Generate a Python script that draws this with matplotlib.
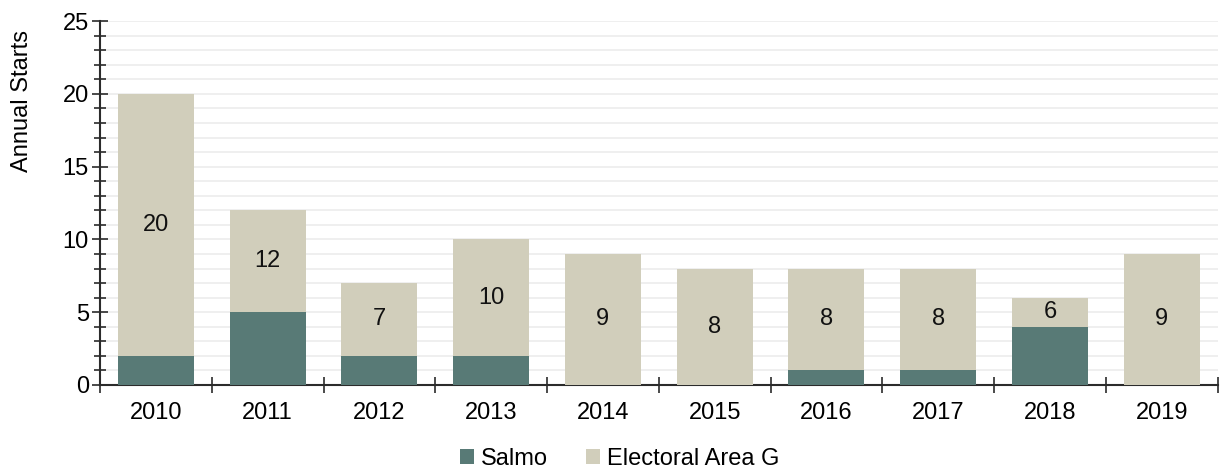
import matplotlib.pyplot as plt
from matplotlib.ticker import MultipleLocator
import numpy as np

plt.rcParams['font.family'] = ['Liberation Sans', 'DejaVu Sans']

years = ['2010', '2011', '2012', '2013', '2014', '2015', '2016', '2017', '2018', '2019']
salmo = [2, 5, 2, 2, 0, 0, 1, 1, 4, 0]
area_g = [18, 7, 5, 8, 9, 8, 7, 7, 2, 9]

c_salmo = '#587a76'
c_area = '#d1cebb'
fs = 17

fig = plt.figure(figsize=(12.2, 4.7), dpi=100)
ax = fig.add_axes([0.082, 0.181, 0.916, 0.774])

x = np.arange(len(years))
w = 0.68
ax.bar(x, salmo, w, color=c_salmo, label='Salmo', zorder=3)
ax.bar(x, area_g, w, bottom=salmo, color=c_area, label='Electoral Area G', zorder=3)

# total label in the middle of the upper segment
for i in range(len(years)):
    total = salmo[i] + area_g[i]
    ax.text(x[i], salmo[i] + area_g[i] / 2, f'{total}', ha='center', va='center',
            fontsize=fs, color='#111111', zorder=4)

ax.set_xlim(-0.5, len(years) - 0.5)
ax.set_ylim(0, 25)
ax.yaxis.set_major_locator(MultipleLocator(5))
ax.yaxis.set_minor_locator(MultipleLocator(1))
ax.grid(axis='y', which='both', color='#ececec', linewidth=1.2, zorder=0)

ax.set_xticks(x)
ax.set_xticklabels(years)
ax.set_xticks(np.arange(len(years) + 1) - 0.5, minor=True)
ax.tick_params(axis='x', which='major', length=0, pad=12, labelsize=fs)
ax.tick_params(axis='x', which='minor', direction='inout', length=12, width=1.2, color='#2b2b2b')
ax.tick_params(axis='y', which='major', direction='inout', length=12, width=1.2,
               color='#2b2b2b', labelsize=fs, pad=2)
ax.tick_params(axis='y', which='minor', direction='inout', length=9, width=1.2, color='#2b2b2b')

for s in ['top', 'right']:
    ax.spines[s].set_visible(False)
for s in ['left', 'bottom']:
    ax.spines[s].set_color('#2b2b2b')
    ax.spines[s].set_linewidth(1.5)

ax.set_ylabel('Annual Starts', fontsize=fs)
ax.yaxis.set_label_coords(-0.060, 0.78)

fig.legend(*ax.get_legend_handles_labels(), loc='center', bbox_to_anchor=(0.508, 0.024),
           ncol=2, frameon=False, fontsize=fs, handlelength=0.6, handleheight=0.6,
           handletextpad=0.3, columnspacing=1.6, borderpad=0)

fig.savefig('out.png', dpi=100)
